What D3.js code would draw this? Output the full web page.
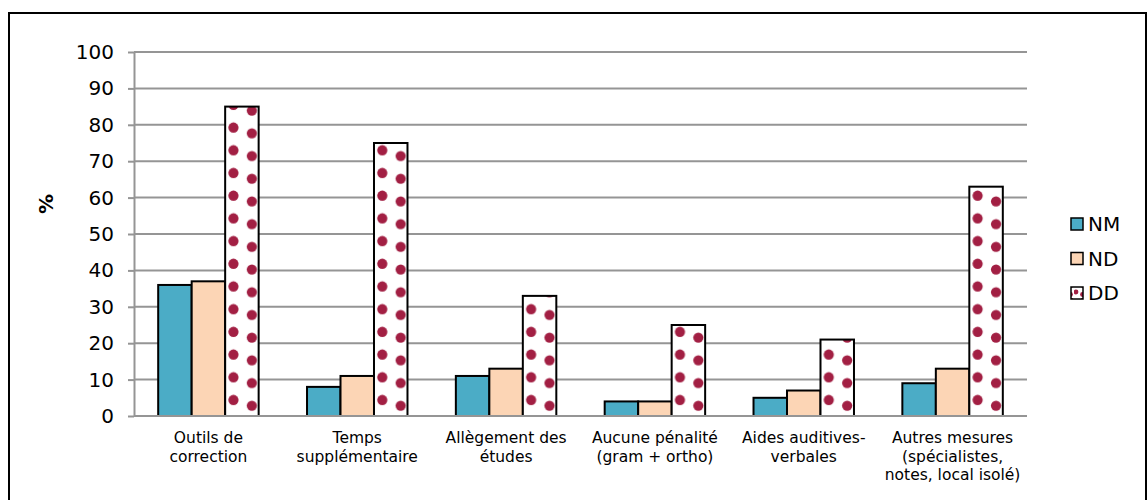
<!DOCTYPE html>
<html>
<head>
<meta charset="utf-8">
<script src="https://cdn.jsdelivr.net/npm/d3@7"></script>
<style>
  html, body { margin: 0; padding: 0; background: #fff; }
  svg { display: block; font-family: "DejaVu Sans", Verdana, sans-serif; }
</style>
</head>
<body>
<svg id="chart" width="1148" height="500"></svg>
<script>
const categories = [
  ["Outils de", "correction"],
  ["Temps", "supplémentaire"],
  ["Allègement des", "études"],
  ["Aucune pénalité", "(gram + ortho)"],
  ["Aides auditives-", "verbales"],
  ["Autres mesures", "(spécialistes,", "notes, local isolé)"]
];
const seriesNames = ["NM", "ND", "DD"];
const valuesNM = [36, 8, 11, 4, 5, 9];
const valuesND = [37, 11, 13, 4, 7, 13];
const valuesDD = [85, 75, 33, 25, 21, 63];
const yTicks = [0, 10, 20, 30, 40, 50, 60, 70, 80, 90, 100];
const yTitle = "%";

(function () {
const seriesValues = [valuesNM, valuesND, valuesDD];
const colors = { NM: "#4BACC6", ND: "#FCD5B5", DD: "#FFFFFF" };
const dotColor = "#A21F43";

const svg = d3.select("#chart");
const pLeft = 134, pRight = 1027, pTop = 52, pBottom = 416;

// outer frame
svg.append("rect").attr("x", 9).attr("y", 13).attr("width", 1137).attr("height", 600)
  .attr("fill", "#fff").attr("stroke", "#000").attr("stroke-width", 2);

const catIdx = categories.map((c, i) => i);
const x0 = d3.scaleBand().domain(catIdx).range([pLeft, pRight]).paddingInner(0.325).paddingOuter(0.1625);
const x1 = d3.scaleBand().domain(seriesNames).range([0, x0.bandwidth()]).padding(0);
const y = d3.scaleLinear().domain([0, 100]).range([pBottom, pTop]);

// gridlines
svg.append("g").selectAll("line").data(yTicks.filter(t => t > 0)).join("line")
  .attr("x1", pLeft).attr("x2", pRight)
  .attr("y1", d => y(d)).attr("y2", d => y(d))
  .attr("stroke", "#959595").attr("stroke-width", 2);

// y axis
const yAxis = svg.append("g").attr("transform", `translate(${pLeft},0)`)
  .call(d3.axisLeft(y).tickValues(yTicks).tickSize(6).tickPadding(14).tickSizeOuter(0));
yAxis.select(".domain").attr("stroke", "#959595").attr("stroke-width", 2);
yAxis.selectAll(".tick line").attr("stroke", "#959595").attr("stroke-width", 2);
yAxis.selectAll(".tick text").attr("font-size", 20).attr("fill", "#000")
  .attr("font-family", "DejaVu Sans, Verdana, sans-serif");

// y title
svg.append("text").attr("transform", `translate(53,${(pTop + pBottom) / 2 - 30}) rotate(-90)`)
  .attr("text-anchor", "middle").attr("font-size", 20).attr("font-weight", "bold").text(yTitle);

// patterns per DD bar
const defs = svg.append("defs");
const ddW = x1.bandwidth();
catIdx.forEach(i => {
  const bx = x0(i) + x1("DD");
  const p = defs.append("pattern").attr("id", "dd" + i)
    .attr("patternUnits", "userSpaceOnUse")
    .attr("x", bx).attr("y", pBottom - 22.7 * 20)
    .attr("width", ddW).attr("height", 22.7);
  p.append("rect").attr("width", ddW).attr("height", 22.7).attr("fill", "#fff");
  p.append("circle").attr("cx", 8.3).attr("cy", 6.7).attr("r", 5.1).attr("fill", dotColor);
  p.append("circle").attr("cx", 26.7).attr("cy", 12.4).attr("r", 5.1).attr("fill", dotColor);
});
const lp = defs.append("pattern").attr("id", "ddLegend").attr("patternUnits", "userSpaceOnUse")
  .attr("x", 1071).attr("y", 287).attr("width", 12).attr("height", 12);
lp.append("rect").attr("width", 12).attr("height", 12).attr("fill", "#fff");
lp.append("circle").attr("cx", 2).attr("cy", 6).attr("r", 2.4).attr("fill", dotColor);
lp.append("circle").attr("cx", 8.5).attr("cy", 8.5).attr("r", 2.4).attr("fill", dotColor);
lp.append("circle").attr("cx", 9).attr("cy", 0).attr("r", 2.0).attr("fill", dotColor);

// bars
const barData = [];
catIdx.forEach(i => seriesNames.forEach((s, j) => barData.push({ i, s, v: seriesValues[j][i] })));
svg.append("g").selectAll("rect").data(barData).join("rect")
  .attr("x", d => x0(d.i) + x1(d.s))
  .attr("y", d => y(d.v))
  .attr("width", x1.bandwidth())
  .attr("height", d => y(0) - y(d.v))
  .attr("fill", d => d.s === "DD" ? `url(#dd${d.i})` : colors[d.s])
  .attr("stroke", "#000").attr("stroke-width", 2);

// x axis baseline
svg.append("line").attr("x1", pLeft).attr("x2", pRight).attr("y1", pBottom).attr("y2", pBottom)
  .attr("stroke", "#959595").attr("stroke-width", 2);

// category labels
const lab = svg.append("g").selectAll("text").data(catIdx).join("text")
  .attr("x", d => x0(d) + x0.bandwidth() / 2)
  .attr("y", 443)
  .attr("text-anchor", "middle").attr("font-size", 15.5).attr("fill", "#000");
lab.selectAll("tspan").data(d => categories[d]).join("tspan")
  .attr("x", function () { return d3.select(this.parentNode).attr("x"); })
  .attr("dy", (d, k) => k === 0 ? 0 : 18.5)
  .text(d => d);

// legend
const lg = svg.append("g").selectAll("g").data(seriesNames).join("g")
  .attr("transform", (d, k) => `translate(1071,${218 + k * 34.5})`);
lg.append("rect").attr("x", 0).attr("y", 0).attr("width", 12).attr("height", 12)
  .attr("fill", d => d === "DD" ? "url(#ddLegend)" : colors[d])
  .attr("stroke", "#000").attr("stroke-width", 1.5);
lg.append("text").attr("x", 17).attr("y", 13).attr("font-size", 20).attr("fill", "#000").text(d => d);
})();
</script>
</body>
</html>
